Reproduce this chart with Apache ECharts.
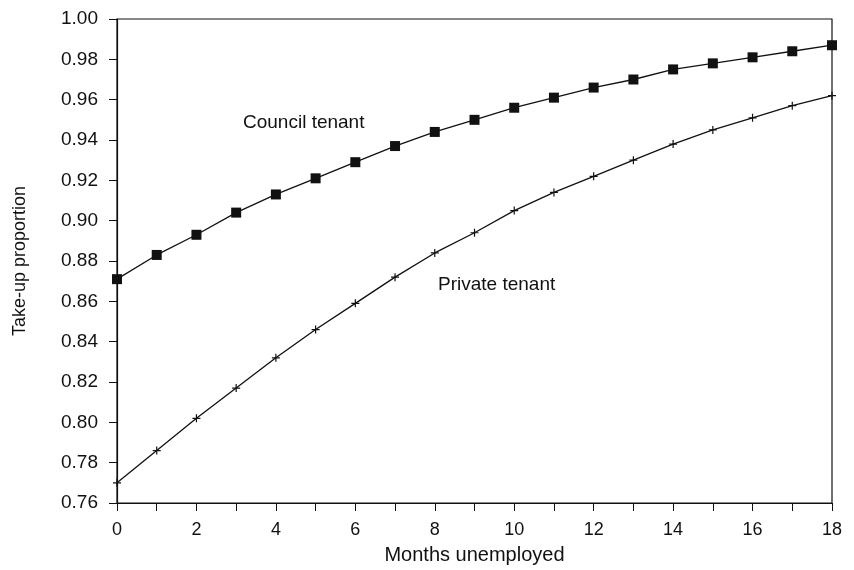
<!DOCTYPE html>
<html>
<head>
<meta charset="utf-8">
<script src="https://cdn.jsdelivr.net/npm/echarts@6/dist/echarts.min.js"></script>
<style>
html,body{margin:0;padding:0;background:#fff;}
#chart{width:854px;height:570px;}
</style>
</head>
<body>
<div id="chart"></div>
<script>
var months = [0,1,2,3,4,5,6,7,8,9,10,11,12,13,14,15,16,17,18];
var councilTenant = [0.871,0.883,0.893,0.904,0.913,0.921,0.929,0.937,0.944,0.950,0.956,0.961,0.966,0.970,0.975,0.978,0.981,0.984,0.987];
var privateTenant = [0.770,0.786,0.802,0.817,0.832,0.846,0.859,0.872,0.884,0.894,0.905,0.914,0.922,0.930,0.938,0.945,0.951,0.957,0.962];
var seriesNames = ['Council tenant','Private tenant'];
var xAxisTitle = 'Months unemployed';
var yAxisTitle = 'Take-up proportion';

var FONT = '"Liberation Sans", Arial, Helvetica, sans-serif';
var plusPath = 'path://M-0.15,-1 L0.15,-1 L0.15,-0.15 L1,-0.15 L1,0.15 L0.15,0.15 L0.15,1 L-0.15,1 L-0.15,0.15 L-1,0.15 L-1,-0.15 L-0.15,-0.15 Z';

function pairs(xs, ys){ return xs.map(function(x,i){ return [x, ys[i]]; }); }

var chart = echarts.init(document.getElementById('chart'), null, {renderer:'canvas'});
chart.setOption({
  animation: false,
  backgroundColor: '#fff',
  textStyle: {fontFamily: FONT, color: '#111'},
  grid: {left: 117, right: 22, top: 19, bottom: 65, show: true, borderColor: '#111', borderWidth: 1.2, backgroundColor: 'transparent'},
  xAxis: {
    type: 'value', min: 0, max: 18, interval: 2,
    name: xAxisTitle, nameLocation: 'middle', nameGap: 42,
    nameTextStyle: {fontFamily: FONT, fontSize: 20, color: '#111'},
    axisLine: {show: true, onZero: false, lineStyle: {color: '#111', width: 1.2}},
    axisTick: {show: true, inside: false, length: 8, lineStyle: {color: '#111', width: 1}},
    minorTick: {show: true, splitNumber: 2, length: 8, lineStyle: {color: '#111', width: 1}},
    axisLabel: {fontFamily: FONT, fontSize: 18, color: '#111', margin: 18},
    splitLine: {show: false}
  },
  yAxis: {
    type: 'value', min: 0.76, max: 1.00, interval: 0.02,
    name: yAxisTitle, nameLocation: 'middle', nameGap: 88, nameRotate: 90,
    nameTextStyle: {fontFamily: FONT, fontSize: 18, color: '#111'},
    axisLine: {show: true, onZero: false, lineStyle: {color: '#111', width: 1.2}},
    axisTick: {show: true, inside: false, length: 8, lineStyle: {color: '#111', width: 1}},
    axisLabel: {fontFamily: FONT, fontSize: 19, color: '#111', margin: 19,
      formatter: function(v){ return v.toFixed(2); }},
    splitLine: {show: false}
  },
  series: [
    {
      name: seriesNames[0], type: 'line', data: pairs(months, councilTenant),
      symbol: 'rect', symbolSize: 10, showAllSymbol: true,
      lineStyle: {color: '#111', width: 1.3},
      itemStyle: {color: '#111'}
    },
    {
      name: seriesNames[1], type: 'line', data: pairs(months, privateTenant),
      symbol: plusPath, symbolSize: 8, showAllSymbol: true,
      lineStyle: {color: '#111', width: 1.3},
      itemStyle: {color: '#111'}
    }
  ],
  graphic: [
    {type: 'text', left: 243, top: 113, style: {text: seriesNames[0], font: '19px ' + FONT, fill: '#111'}},
    {type: 'text', left: 438, top: 275, style: {text: seriesNames[1], font: '19px ' + FONT, fill: '#111'}}
  ]
});
</script>
</body>
</html>
